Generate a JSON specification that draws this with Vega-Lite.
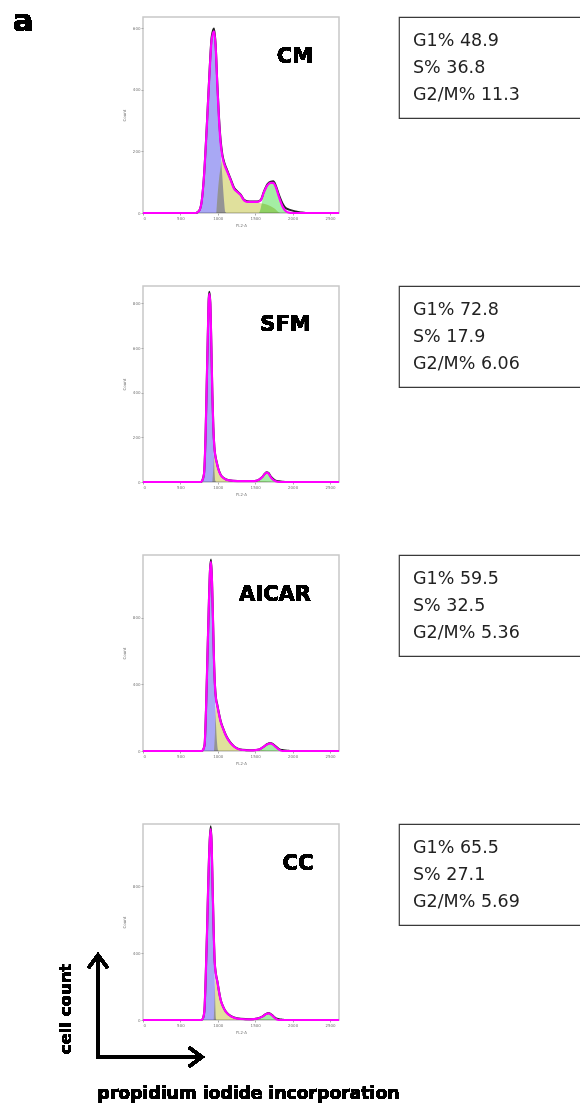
{
"$schema": "https://vega.github.io/schema/vega-lite/v6.json",
"background": "white",
"padding": {"left": 11, "top": 5, "right": 0, "bottom": 0},
"autosize": {"type": "pad"},
"columns": 2,
"bounds": "flush",
"spacing": {"row": 73, "column": 60},
"datasets": {
"stats": [
{"p":"CM","line":1,"t":"G1% 48.9"},{"p":"CM","line":2,"t":"S% 36.8"},{"p":"CM","line":3,"t":"G2/M% 11.3"},
{"p":"SFM","line":1,"t":"G1% 72.8"},{"p":"SFM","line":2,"t":"S% 17.9"},{"p":"SFM","line":3,"t":"G2/M% 6.06"},
{"p":"AICAR","line":1,"t":"G1% 59.5"},{"p":"AICAR","line":2,"t":"S% 32.5"},{"p":"AICAR","line":3,"t":"G2/M% 5.36"},
{"p":"CC","line":1,"t":"G1% 65.5"},{"p":"CC","line":2,"t":"S% 27.1"},{"p":"CC","line":3,"t":"G2/M% 5.69"}
],
"cm": [
{"x":0,"fit":0,"raw":0},
{"x":704,"fit":0,"raw":0,"g1":0},
{"x":749,"fit":6.5,"raw":7,"g1":6.5},
{"x":784,"fit":36,"raw":38,"g1":36},
{"x":815,"fit":117,"raw":120,"g1":117},
{"x":851,"fit":270,"raw":275,"g1":270},
{"x":887,"fit":443,"raw":450,"g1":443},
{"x":918,"fit":563,"raw":572,"g1":563},
{"x":949,"fit":590,"raw":600,"g1":590},
{"x":971,"fit":541,"raw":548,"g1":541},
{"x":980,"s":0},
{"x":994,"fit":411,"raw":420,"g1":411,"s":50},
{"x":1016,"fit":302,"raw":312,"g1":302,"s":110},
{"x":1038,"fit":226,"raw":236,"g1":204,"s":150},
{"x":1047,"s":166},
{"x":1061,"fit":183,"raw":190,"g1":117,"s":178},
{"x":1083,"g1":41},
{"x":1092,"fit":155,"raw":160,"s":155},
{"x":1101,"g1":3},
{"x":1115,"g1":0},
{"x":1127,"fit":134,"raw":138,"s":134},
{"x":1172,"fit":107,"raw":110,"s":107},
{"x":1217,"fit":79,"raw":82,"s":79},
{"x":1261,"fit":68,"raw":70,"s":68},
{"x":1306,"fit":58,"raw":60,"s":58},
{"x":1350,"fit":41,"raw":43,"s":41},
{"x":1395,"fit":36,"raw":38,"s":36},
{"x":1462,"fit":36,"raw":37,"s":35},
{"x":1528,"fit":36,"raw":37,"s":33},
{"x":1551,"g2":0},
{"x":1573,"fit":41,"raw":42,"s":32,"g2":15},
{"x":1595,"g2":41},
{"x":1617,"fit":68,"raw":70,"s":30,"g2":68},
{"x":1662,"fit":90,"raw":93,"s":27,"g2":90},
{"x":1707,"fit":98,"raw":102,"s":22,"g2":98},
{"x":1742,"fit":98,"raw":103,"s":17,"g2":98},
{"x":1774,"fit":85,"raw":90,"s":11,"g2":85},
{"x":1800,"s":5},
{"x":1818,"fit":52,"raw":58,"s":2,"g2":52},
{"x":1840,"s":0},
{"x":1863,"fit":22,"raw":32,"g2":22},
{"x":1907,"fit":6.5,"raw":16,"g2":6},
{"x":1952,"fit":1,"raw":11,"g2":0},
{"x":2000,"fit":0},
{"x":2041,"raw":5},
{"x":2108,"raw":2},
{"x":2175,"raw":0},
{"x":2620,"fit":0,"raw":0}
],
"sfm": [
{"x":0,"fit":0,"raw":0},
{"x":771,"fit":0,"raw":0,"g1":0},
{"x":793,"fit":7,"raw":8,"g1":7},
{"x":815,"fit":34,"raw":36,"g1":34},
{"x":838,"fit":228,"raw":232,"g1":228},
{"x":851,"fit":422,"raw":428,"g1":422},
{"x":865,"fit":631,"raw":638,"g1":631},
{"x":878,"fit":810,"raw":820,"g1":810},
{"x":887,"fit":843,"raw":852,"g1":843},
{"x":900,"fit":796,"raw":805,"g1":796},
{"x":914,"fit":601,"raw":610,"g1":601},
{"x":927,"fit":393,"raw":400,"g1":393,"s":0},
{"x":940,"fit":243,"raw":250,"g1":228,"s":60},
{"x":949,"g1":109},
{"x":951,"s":120},
{"x":954,"fit":154,"raw":158},
{"x":958,"g1":34},
{"x":960,"s":125},
{"x":967,"fit":116,"raw":119,"g1":4,"s":116},
{"x":975,"g1":0},
{"x":985,"fit":87,"raw":90,"s":87},
{"x":1007,"fit":57,"raw":59,"s":57},
{"x":1038,"fit":31,"raw":33,"s":31},
{"x":1083,"fit":16,"raw":17,"s":16},
{"x":1150,"fit":7,"raw":8,"s":7},
{"x":1261,"fit":4,"raw":5,"s":4},
{"x":1484,"fit":4,"raw":4,"s":3},
{"x":1529,"g2":0},
{"x":1551,"fit":10,"raw":11,"g2":6},
{"x":1595,"fit":22,"raw":23,"s":2,"g2":20},
{"x":1631,"fit":37,"raw":38,"g2":36},
{"x":1653,"fit":42,"raw":44,"g2":41},
{"x":1676,"fit":39,"raw":41,"s":1,"g2":38},
{"x":1707,"fit":22,"raw":25,"g2":21},
{"x":1720,"s":0},
{"x":1742,"fit":9,"raw":13,"g2":8},
{"x":1774,"fit":3,"raw":6,"g2":2},
{"x":1800,"g2":0},
{"x":1818,"fit":0,"raw":3},
{"x":1863,"raw":1},
{"x":1900,"raw":0},
{"x":2620,"fit":0,"raw":0}
],
"aicar": [
{"x":0,"fit":0,"raw":0},
{"x":784,"fit":0,"raw":0,"g1":0},
{"x":807,"fit":10,"raw":11,"g1":10},
{"x":824,"fit":40,"raw":42,"g1":40},
{"x":842,"fit":240,"raw":245,"g1":240},
{"x":860,"fit":540,"raw":548,"g1":540},
{"x":878,"fit":840,"raw":850,"g1":840},
{"x":896,"fit":1080,"raw":1092,"g1":1080},
{"x":909,"fit":1136,"raw":1150,"g1":1136},
{"x":922,"fit":1020,"raw":1032,"g1":1020},
{"x":936,"fit":780,"raw":790,"g1":780},
{"x":949,"fit":540,"raw":550,"g1":540,"s":0},
{"x":963,"fit":380,"raw":388,"g1":340,"s":120},
{"x":972,"s":250},
{"x":976,"fit":310,"raw":318,"g1":160},
{"x":985,"s":300},
{"x":990,"g1":50},
{"x":994,"fit":270,"raw":276,"s":270},
{"x":1003,"g1":4},
{"x":1010,"g1":0},
{"x":1016,"fit":220,"raw":225,"s":220},
{"x":1038,"fit":176,"raw":180,"s":176},
{"x":1074,"fit":130,"raw":133,"s":130},
{"x":1110,"fit":90,"raw":93,"s":90},
{"x":1150,"fit":60,"raw":62,"s":60},
{"x":1194,"fit":36,"raw":38,"s":36},
{"x":1252,"fit":16,"raw":17,"s":16},
{"x":1328,"fit":6,"raw":7,"s":6},
{"x":1439,"fit":4,"raw":4,"s":3},
{"x":1530,"g2":0},
{"x":1551,"fit":8,"raw":9,"s":3,"g2":5},
{"x":1609,"fit":24,"raw":25,"g2":21},
{"x":1650,"s":2},
{"x":1662,"fit":40,"raw":42,"g2":38},
{"x":1698,"fit":46,"raw":48,"g2":44},
{"x":1733,"fit":40,"raw":43,"g2":38},
{"x":1750,"s":1},
{"x":1774,"fit":24,"raw":28,"g2":22},
{"x":1800,"s":0},
{"x":1818,"fit":8,"raw":12,"g2":7},
{"x":1850,"g2":0},
{"x":1863,"fit":0,"raw":6},
{"x":1907,"raw":3},
{"x":1952,"raw":1},
{"x":1990,"raw":0},
{"x":2620,"fit":0,"raw":0}
],
"cc": [
{"x":0,"fit":0,"raw":0},
{"x":780,"fit":0,"raw":0,"g1":0},
{"x":802,"fit":10,"raw":11,"g1":10},
{"x":820,"fit":50,"raw":52,"g1":50},
{"x":838,"fit":248,"raw":253,"g1":248},
{"x":856,"fit":527,"raw":535,"g1":527},
{"x":873,"fit":825,"raw":835,"g1":825},
{"x":891,"fit":1063,"raw":1075,"g1":1063},
{"x":905,"fit":1143,"raw":1160,"g1":1143},
{"x":918,"fit":1044,"raw":1055,"g1":1044},
{"x":931,"fit":785,"raw":795,"g1":785},
{"x":945,"fit":527,"raw":535,"g1":527,"s":0},
{"x":955,"g1":340,"s":100},
{"x":958,"fit":348,"raw":355},
{"x":962,"g1":180},
{"x":965,"s":230},
{"x":968,"g1":70},
{"x":974,"g1":10},
{"x":976,"fit":268,"raw":273,"s":268},
{"x":980,"g1":0},
{"x":994,"fit":229,"raw":233,"s":229},
{"x":1016,"fit":169,"raw":172,"s":169},
{"x":1038,"fit":119,"raw":122,"s":119},
{"x":1070,"fit":80,"raw":82,"s":80},
{"x":1105,"fit":50,"raw":52,"s":50},
{"x":1150,"fit":30,"raw":31,"s":30},
{"x":1217,"fit":14,"raw":15,"s":14},
{"x":1306,"fit":6,"raw":7,"s":6},
{"x":1439,"fit":4,"raw":4,"s":3},
{"x":1500,"g2":0},
{"x":1528,"fit":8,"raw":9,"s":3,"g2":5},
{"x":1595,"fit":20,"raw":21,"g2":17},
{"x":1640,"fit":34,"raw":35,"s":2,"g2":32},
{"x":1676,"fit":40,"raw":42,"g2":38},
{"x":1707,"fit":34,"raw":36,"s":1,"g2":32},
{"x":1742,"fit":20,"raw":23,"g2":18},
{"x":1760,"s":0},
{"x":1778,"fit":6,"raw":10,"g2":5},
{"x":1810,"g2":0},
{"x":1818,"fit":0,"raw":5},
{"x":1863,"raw":2},
{"x":1900,"raw":0},
{"x":2620,"fit":0,"raw":0}
]
},
"concat": [
{
 "width": 196, "height": 196,
 "data": {"name": "cm"},
 "encoding": {"x": {"field": "x", "type": "quantitative", "scale": {"domain": [0, 2620], "nice": false}, "axis": {"values": [0,500,1000,1500,2000,2500], "format": "d", "title": "FL2-A", "titlePadding": 3}}},
 "layer": [
  {"mark": {"type": "area", "color": "#e0e09c", "blend": "multiply", "interpolate": "monotone", "invalid": "filter"}, "encoding": {"y": {"field": "s", "type": "quantitative", "scale": {"domain": [0, 637], "nice": false}, "axis": {"values": [0,200,400,600], "format": "d", "title": "Count", "titlePadding": 6}}}},
  {"mark": {"type": "area", "color": "#a4eea4", "blend": "multiply", "interpolate": "monotone", "invalid": "filter"}, "encoding": {"y": {"field": "g2", "type": "quantitative", "scale": {"domain": [0, 637], "nice": false}}}},
  {"mark": {"type": "area", "color": "#a8a8f4", "blend": "multiply", "interpolate": "monotone", "invalid": "filter"}, "encoding": {"y": {"field": "g1", "type": "quantitative", "scale": {"domain": [0, 637], "nice": false}}}},
  {"mark": {"type": "line", "color": "#222222", "strokeWidth": 2, "interpolate": "monotone", "invalid": "filter"}, "encoding": {"y": {"field": "raw", "type": "quantitative", "scale": {"domain": [0, 637], "nice": false}}}},
  {"mark": {"type": "line", "color": "#ff00ff", "strokeWidth": 2.2, "interpolate": "monotone", "invalid": "filter"}, "encoding": {"y": {"field": "fit", "type": "quantitative", "scale": {"domain": [0, 637], "nice": false}}}},
  {"mark": {"type": "text", "text": "CM", "fontSize": 21, "fontWeight": "bold", "align": "center", "baseline": "alphabetic", "color": "black"}, "encoding": {"x": {"datum": 2032}, "y": {"datum": 489}}},
  {"mark": {"type": "text", "text": "a", "fontSize": 31, "fontWeight": "bold", "align": "left", "baseline": "alphabetic", "color": "black"}, "encoding": {"x": {"datum": -1742}, "y": {"datum": 590}}}
 ]
},
{
 "width": 184, "height": 101,
 "view": {"stroke": "#3a3a3a", "strokeWidth": 1.2},
 "data": {"name": "stats"},
 "transform": [{"filter": "datum.p === 'CM'"}],
 "mark": {"type": "text", "align": "left", "baseline": "alphabetic", "fontSize": 17.5, "dx": 14, "color": "#222222"},
 "encoding": {
  "x": {"datum": 0, "type": "quantitative", "scale": {"domain": [0, 1]}, "axis": null},
  "y": {"field": "line", "type": "ordinal", "scale": {"type": "point", "padding": 0.853, "align": 0.62}, "axis": null},
  "text": {"field": "t"}
 }
},
{
 "width": 196, "height": 196,
 "data": {"name": "sfm"},
 "encoding": {"x": {"field": "x", "type": "quantitative", "scale": {"domain": [0, 2620], "nice": false}, "axis": {"values": [0,500,1000,1500,2000,2500], "format": "d", "title": "FL2-A", "titlePadding": 3}}},
 "layer": [
  {"mark": {"type": "area", "color": "#e0e09c", "blend": "multiply", "interpolate": "monotone", "invalid": "filter"}, "encoding": {"y": {"field": "s", "type": "quantitative", "scale": {"domain": [0, 878], "nice": false}, "axis": {"values": [0,200,400,600,800], "format": "d", "title": "Count", "titlePadding": 6}}}},
  {"mark": {"type": "area", "color": "#a4eea4", "blend": "multiply", "interpolate": "monotone", "invalid": "filter"}, "encoding": {"y": {"field": "g2", "type": "quantitative", "scale": {"domain": [0, 878], "nice": false}}}},
  {"mark": {"type": "area", "color": "#a8a8f4", "blend": "multiply", "interpolate": "monotone", "invalid": "filter"}, "encoding": {"y": {"field": "g1", "type": "quantitative", "scale": {"domain": [0, 878], "nice": false}}}},
  {"mark": {"type": "line", "color": "#222222", "strokeWidth": 2, "interpolate": "monotone", "invalid": "filter"}, "encoding": {"y": {"field": "raw", "type": "quantitative", "scale": {"domain": [0, 878], "nice": false}}}},
  {"mark": {"type": "line", "color": "#ff00ff", "strokeWidth": 2.2, "interpolate": "monotone", "invalid": "filter"}, "encoding": {"y": {"field": "fit", "type": "quantitative", "scale": {"domain": [0, 878], "nice": false}}}},
  {"mark": {"type": "text", "text": "SFM", "fontSize": 21, "fontWeight": "bold", "align": "center", "baseline": "alphabetic", "color": "black"}, "encoding": {"x": {"datum": 1905}, "y": {"datum": 676}}}
 ]
},
{
 "width": 184, "height": 101,
 "view": {"stroke": "#3a3a3a", "strokeWidth": 1.2},
 "data": {"name": "stats"},
 "transform": [{"filter": "datum.p === 'SFM'"}],
 "mark": {"type": "text", "align": "left", "baseline": "alphabetic", "fontSize": 17.5, "dx": 14, "color": "#222222"},
 "encoding": {
  "x": {"datum": 0, "type": "quantitative", "scale": {"domain": [0, 1]}, "axis": null},
  "y": {"field": "line", "type": "ordinal", "scale": {"type": "point", "padding": 0.853, "align": 0.62}, "axis": null},
  "text": {"field": "t"}
 }
},
{
 "width": 196, "height": 196,
 "data": {"name": "aicar"},
 "encoding": {"x": {"field": "x", "type": "quantitative", "scale": {"domain": [0, 2620], "nice": false}, "axis": {"values": [0,500,1000,1500,2000,2500], "format": "d", "title": "FL2-A", "titlePadding": 3}}},
 "layer": [
  {"mark": {"type": "area", "color": "#e0e09c", "blend": "multiply", "interpolate": "monotone", "invalid": "filter"}, "encoding": {"y": {"field": "s", "type": "quantitative", "scale": {"domain": [0, 1177], "nice": false}, "axis": {"values": [0,200,400,600,800,1000], "format": "d", "title": "Count", "titlePadding": 6}}}},
  {"mark": {"type": "area", "color": "#a4eea4", "blend": "multiply", "interpolate": "monotone", "invalid": "filter"}, "encoding": {"y": {"field": "g2", "type": "quantitative", "scale": {"domain": [0, 1177], "nice": false}}}},
  {"mark": {"type": "area", "color": "#a8a8f4", "blend": "multiply", "interpolate": "monotone", "invalid": "filter"}, "encoding": {"y": {"field": "g1", "type": "quantitative", "scale": {"domain": [0, 1177], "nice": false}}}},
  {"mark": {"type": "line", "color": "#222222", "strokeWidth": 2, "interpolate": "monotone", "invalid": "filter"}, "encoding": {"y": {"field": "raw", "type": "quantitative", "scale": {"domain": [0, 1177], "nice": false}}}},
  {"mark": {"type": "line", "color": "#ff00ff", "strokeWidth": 2.2, "interpolate": "monotone", "invalid": "filter"}, "encoding": {"y": {"field": "fit", "type": "quantitative", "scale": {"domain": [0, 1177], "nice": false}}}},
  {"mark": {"type": "text", "text": "AICAR", "fontSize": 21, "fontWeight": "bold", "align": "center", "baseline": "alphabetic", "color": "black"}, "encoding": {"x": {"datum": 1765}, "y": {"datum": 900}}}
 ]
},
{
 "width": 184, "height": 101,
 "view": {"stroke": "#3a3a3a", "strokeWidth": 1.2},
 "data": {"name": "stats"},
 "transform": [{"filter": "datum.p === 'AICAR'"}],
 "mark": {"type": "text", "align": "left", "baseline": "alphabetic", "fontSize": 17.5, "dx": 14, "color": "#222222"},
 "encoding": {
  "x": {"datum": 0, "type": "quantitative", "scale": {"domain": [0, 1]}, "axis": null},
  "y": {"field": "line", "type": "ordinal", "scale": {"type": "point", "padding": 0.853, "align": 0.62}, "axis": null},
  "text": {"field": "t"}
 }
},
{
 "width": 196, "height": 196,
 "data": {"name": "cc"},
 "encoding": {"x": {"field": "x", "type": "quantitative", "scale": {"domain": [0, 2620], "nice": false}, "axis": {"values": [0,500,1000,1500,2000,2500], "format": "d", "title": "FL2-A", "titlePadding": 3}}},
 "layer": [
  {"mark": {"type": "area", "color": "#e0e09c", "blend": "multiply", "interpolate": "monotone", "invalid": "filter"}, "encoding": {"y": {"field": "s", "type": "quantitative", "scale": {"domain": [0, 1174], "nice": false}, "axis": {"values": [0,200,400,600,800,1000], "format": "d", "title": "Count", "titlePadding": 6}}}},
  {"mark": {"type": "area", "color": "#a4eea4", "blend": "multiply", "interpolate": "monotone", "invalid": "filter"}, "encoding": {"y": {"field": "g2", "type": "quantitative", "scale": {"domain": [0, 1174], "nice": false}}}},
  {"mark": {"type": "area", "color": "#a8a8f4", "blend": "multiply", "interpolate": "monotone", "invalid": "filter"}, "encoding": {"y": {"field": "g1", "type": "quantitative", "scale": {"domain": [0, 1174], "nice": false}}}},
  {"mark": {"type": "line", "color": "#222222", "strokeWidth": 2, "interpolate": "monotone", "invalid": "filter"}, "encoding": {"y": {"field": "raw", "type": "quantitative", "scale": {"domain": [0, 1174], "nice": false}}}},
  {"mark": {"type": "line", "color": "#ff00ff", "strokeWidth": 2.2, "interpolate": "monotone", "invalid": "filter"}, "encoding": {"y": {"field": "fit", "type": "quantitative", "scale": {"domain": [0, 1174], "nice": false}}}},
  {"mark": {"type": "text", "text": "CC", "fontSize": 21, "fontWeight": "bold", "align": "center", "baseline": "alphabetic", "color": "black"}, "encoding": {"x": {"datum": 2072}, "y": {"datum": 901}}},
  {"mark": {"type": "rule", "color": "black", "strokeWidth": 3}, "encoding": {"x": {"datum": -601.5}, "y": {"datum": -230.6}, "y2": {"datum": 371}}},
  {"mark": {"type": "rule", "color": "black", "strokeWidth": 3}, "encoding": {"x": {"datum": -601.5}, "x2": {"datum": 775}, "y": {"datum": -221.6}}},
  {"mark": {"type": "point", "shape": "M-1,0.68L0,-0.68L1,0.68", "filled": false, "size": 361, "strokeWidth": 3, "color": "black", "opacity": 1}, "encoding": {"x": {"datum": -601.5}, "y": {"datum": 350.4}}},
  {"mark": {"type": "point", "shape": "M-1,0.68L0,-0.68L1,0.68", "filled": false, "size": 361, "strokeWidth": 3, "color": "black", "opacity": 1, "angle": 90}, "encoding": {"x": {"datum": 701.8}, "y": {"datum": -221.6}}},
  {"mark": {"type": "text", "text": "cell count", "angle": 270, "fontSize": 16.5, "fontWeight": "bold", "align": "center", "baseline": "middle", "color": "black"}, "encoding": {"x": {"datum": -1029}, "y": {"datum": 66}}},
  {"mark": {"type": "text", "text": "propidium iodide incorporation", "fontSize": 17.2, "fontWeight": "bold", "align": "center", "baseline": "alphabetic", "color": "black"}, "encoding": {"x": {"datum": 1410}, "y": {"datum": -473}}}
 ]
},
{
 "width": 184, "height": 101,
 "view": {"stroke": "#3a3a3a", "strokeWidth": 1.2},
 "data": {"name": "stats"},
 "transform": [{"filter": "datum.p === 'CC'"}],
 "mark": {"type": "text", "align": "left", "baseline": "alphabetic", "fontSize": 17.5, "dx": 14, "color": "#222222"},
 "encoding": {
  "x": {"datum": 0, "type": "quantitative", "scale": {"domain": [0, 1]}, "axis": null},
  "y": {"field": "line", "type": "ordinal", "scale": {"type": "point", "padding": 0.853, "align": 0.62}, "axis": null},
  "text": {"field": "t"}
 }
}
],
"config": {
 "mark": {"invalid": "filter"},
 "view": {"stroke": "#c8c8c8", "strokeWidth": 1.5},
 "axis": {"grid": false, "domain": false, "labelOverlap": false, "labelFont": "DejaVu Sans", "labelFontSize": 4, "labelColor": "#777777", "titleFont": "DejaVu Sans", "titleFontSize": 4, "titleFontWeight": "normal", "titleColor": "#777777", "tickSize": 2, "tickColor": "#aaaaaa", "labelPadding": 1},
 "text": {"font": "DejaVu Sans"}
}
}
